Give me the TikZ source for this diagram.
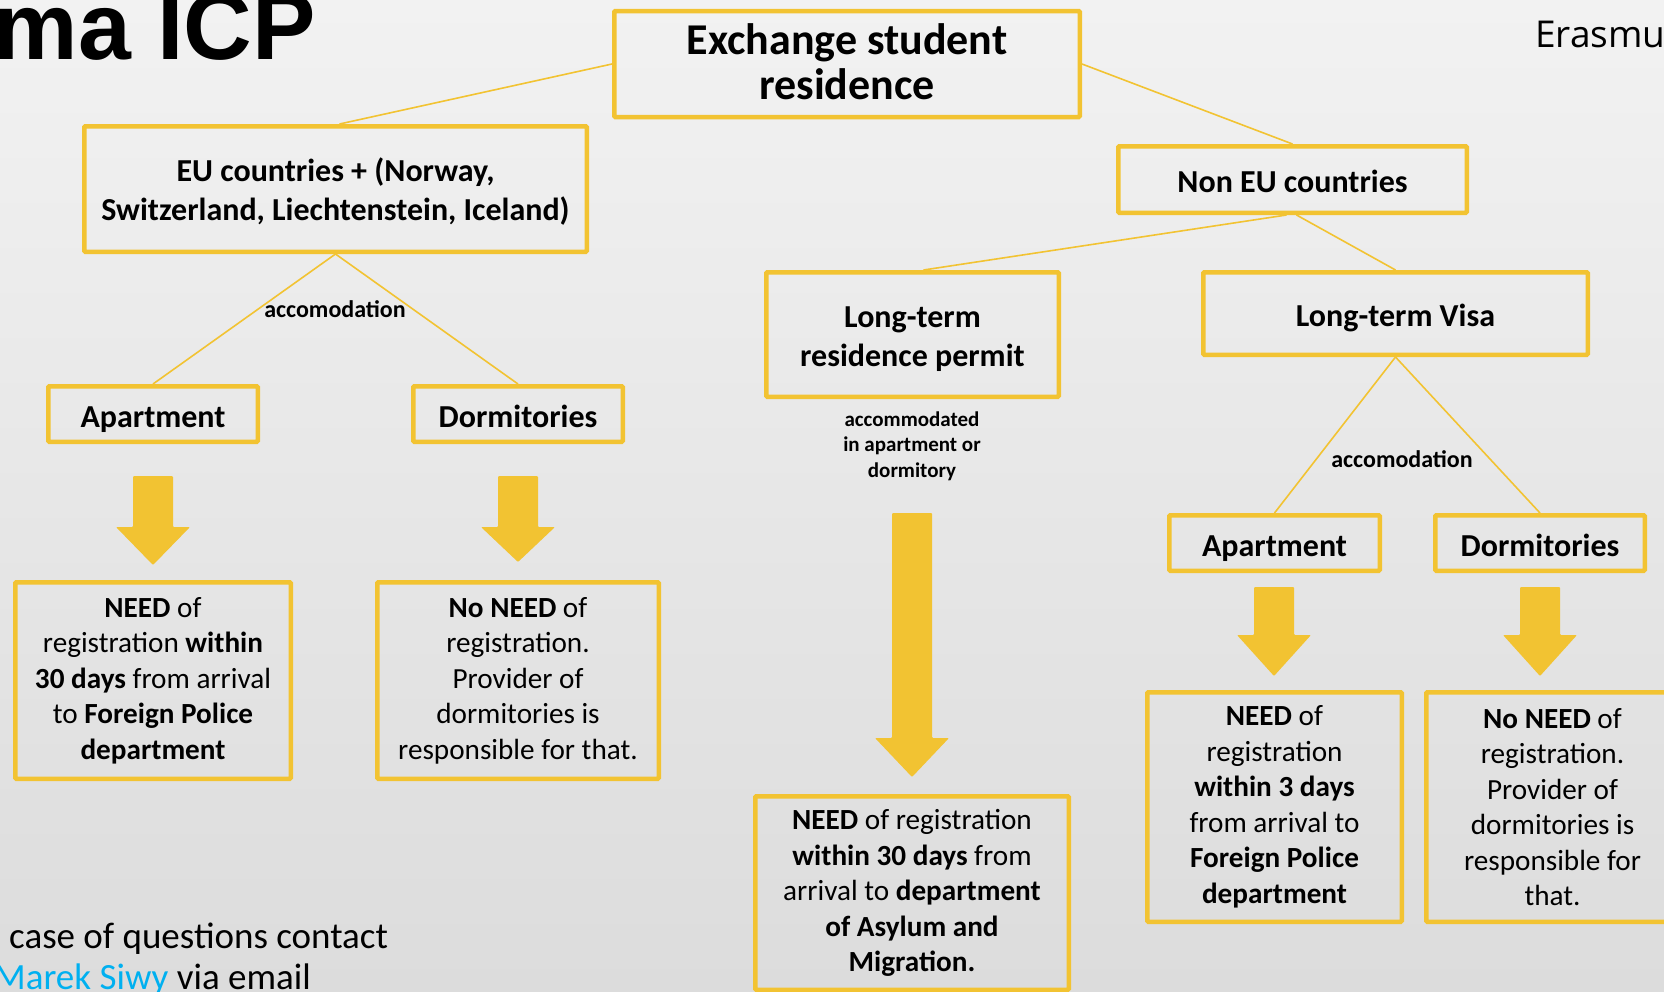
\documentclass[tikz,border=0pt]{standalone}
\usepackage{fontspec}
\setmainfont{Carlito}
\newfontfamily\titlefont{Liberation Sans}
\newfontfamily\logofont{Open Sans}
\definecolor{boxyellow}{RGB}{242,195,50}
\definecolor{linkblue}{RGB}{0,176,240}
\definecolor{bgtop}{RGB}{242,242,242}
\definecolor{bgmid}{RGB}{239,239,239}
\definecolor{bgbottom}{RGB}{220,220,220}
\tikzset{
    ybox/.style={draw=boxyellow, line width=4.5pt, rounded corners=1pt, inner sep=0pt, align=center},
    oneline/.style={text height=32.5pt, text depth=6.4pt},
    bigtext/.style={font=\fontsize{44}{45}\selectfont\bfseries},
    headtext/.style={font=\fontsize{32}{39.5}\selectfont\bfseries},
    bodytext/.style={font=\fontsize{29.2}{35.5}\selectfont},
    labeltext/.style={font=\fontsize{24}{28}\selectfont\bfseries, inner sep=0pt},
    notetext/.style={font=\fontsize{21}{25.5}\selectfont\bfseries, inner sep=0pt, align=center},
    link/.style={draw=boxyellow, line width=1.6pt}
}
\begin{document}
\begin{tikzpicture}[x=1pt, y=-1pt]
    \useasboundingbox (0,0) rectangle (1664,991);
    \clip (0,0) rectangle (1664,991);
    \shade[top color=bgtop, middle color=bgmid, bottom color=bgbottom] (0,0) rectangle (1664,991);
    % title and logo
    \node[font=\titlefont\fontsize{95}{100}\selectfont\bfseries, inner sep=0pt, anchor=base east] (title) at (316,59) {ma ICP};
    \node[font=\logofont\fontsize{37}{40}\selectfont, inner sep=0pt, anchor=base west] (logo) at (1535,47) {Erasmu};
    % boxes
    \node[ybox, minimum width=465.5pt, minimum height=106pt] (exch) at (847,64) {};
    \node[bigtext, inner sep=0pt, align=center] (exchtext) at (847,62) {Exchange student\\residence};
    \node[ybox, minimum width=502.5pt, minimum height=125.5pt] (eu) at (335.5,189) {};
    \node[headtext, inner sep=0pt, align=center] (eutext) at (335.5,191.5) {EU countries + (Norway,\\Switzerland, Liechtenstein, Iceland)};
    \node[ybox, headtext, oneline, minimum width=348.5pt, minimum height=66.5pt] (noneu) at (1292.5,179.5) {Non EU countries};
    \node[ybox, minimum width=292.5pt, minimum height=124.5pt] (ltrp) at (912.5,334.5) {};
    \node[headtext, inner sep=0pt, align=center] (ltrptext) at (912.5,339) {Long-term\\residence permit};
    \node[ybox, headtext, oneline, minimum width=384.5pt, minimum height=82.5pt] (ltv) at (1395.5,313.5) {Long-term Visa};
    \node[ybox, headtext, oneline, minimum width=209.5pt, minimum height=55.5pt] (aptL) at (153,414) {Apartment};
    \node[ybox, headtext, oneline, minimum width=209.5pt, minimum height=55.5pt] (dormL) at (518,414) {Dormitories};
    \node[ybox, headtext, oneline, minimum width=210.5pt, minimum height=55.5pt] (aptR) at (1274.5,543) {Apartment};
    \node[ybox, headtext, oneline, minimum width=209.5pt, minimum height=55.5pt] (dormR) at (1540,543) {Dormitories};
    \node[ybox, bodytext, minimum width=275.5pt, minimum height=196.5pt] (needL) at (153,680.5)
        {\textbf{NEED} of\\registration \textbf{within}\\\textbf{30 days} from arrival\\to \textbf{Foreign Police}\\\textbf{department}};
    \node[ybox, bodytext, minimum width=281.5pt, minimum height=196.5pt] (noneedL) at (518,680.5)
        {\textbf{No NEED} of\\registration.\\Provider of\\dormitories is\\responsible for that.};
    \node[ybox, bodytext, minimum width=313.5pt, minimum height=193.5pt] (needM) at (912,893)
        {\textbf{NEED} of registration\\\textbf{within 30 days} from\\arrival to \textbf{department}\\\textbf{of Asylum and}\\\textbf{Migration.}};
    \node[ybox, bodytext, minimum width=254.5pt, minimum height=229.5pt] (needR) at (1274.5,807)
        {\textbf{NEED} of\\registration\\\textbf{within 3 days}\\from arrival to\\\textbf{Foreign Police}\\\textbf{department}};
    \node[ybox, bodytext, minimum width=252.5pt, minimum height=229.5pt] (noneedR) at (1552.5,807)
        {\textbf{No NEED} of\\registration.\\Provider of\\dormitories is\\responsible for\\that.};
    % connectors
    \draw[link] (exch.west) -- ([xshift=4pt]eu.north);
    \draw[link] (exch.east) -- (noneu.north);
    \draw[link] (eu.south) -- (aptL.north);
    \draw[link] (eu.south) -- (dormL.north);
    \draw[link] ([xshift=-6pt]noneu.south) -- ([xshift=11pt]ltrp.north);
    \draw[link] ([xshift=4pt]noneu.south) -- (ltv.north);
    \draw[link] (ltv.south) -- (aptR.north);
    \draw[link] (ltv.south) -- (dormR.north);
    \node[labeltext] (accL) at (335,309) {accomodation};
    \node[labeltext] (accR) at (1402,459) {accomodation};
    \node[notetext] (accNote) at (912,446) {accommodated\\in apartment or\\dormitory};
    % block arrows
    \foreach \cx/\ty/\hy/\py in {153/476/527/565, 518/476/527/562, 912/513/738/777, 1274/587/635/676, 1540/587/635/676}
        \fill[boxyellow, rounded corners=1pt] (\cx-20,\ty) -- (\cx+20,\ty) -- (\cx+20,\hy) -- (\cx+37,\hy) -- (\cx,\py) -- (\cx-37,\hy) -- (\cx-20,\hy) -- cycle;
    % contact
    \node[font=\fontsize{37}{44}\selectfont, inner sep=0pt, anchor=base west] (contact1) at (9,948) {case of questions contact};
    \node[font=\fontsize{37}{44}\selectfont, inner sep=0pt, anchor=base west] (contact2) at (-6,989) {\textcolor{linkblue}{Marek Siwy} via email};
\end{tikzpicture}
\end{document}
